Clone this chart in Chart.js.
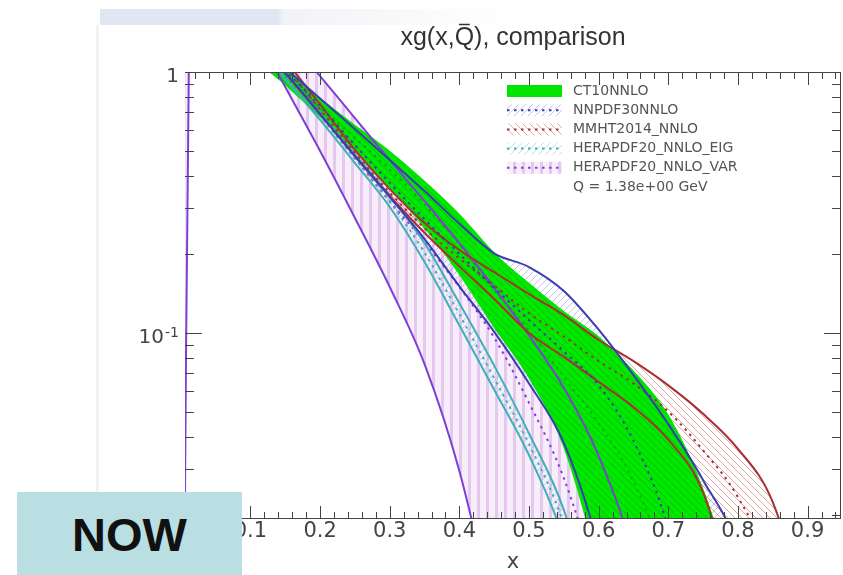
<!DOCTYPE html>
<html>
<head>
<meta charset="utf-8">
<title>xg(x,Q) comparison</title>
<script src="https://cdn.jsdelivr.net/npm/chart.js@4.4.1/dist/chart.umd.min.js"></script>
<style>
  html, body { margin: 0; padding: 0; background: #fff; }
  #wrap { position: relative; width: 843px; height: 575px; overflow: hidden; background: #fff; }
  #chart-box { position: absolute; left: 0; top: 0; width: 843px; height: 575px; z-index: 1; }
  .slide-bar { position: absolute; left: 100px; top: 9px; width: 420px; height: 16px; z-index: 0;
    background: linear-gradient(to right, #e1e7f2 0px, #e1e7f2 178px, #f1f3f7 184px, #ffffff 420px); }
  .slide-edge { position: absolute; left: 96px; top: 25px; width: 3px; height: 467px; background: #f1f2f4; z-index: 0; }
  .now { position: absolute; left: 17px; top: 492px; width: 225px; height: 83px; background: #badfe3; z-index: 2;
    font: bold 47px "Liberation Sans", Arial, sans-serif; color: #111; text-align: center; line-height: 85px; }
</style>
</head>
<body>
<div id="wrap">
  <div class="slide-bar"></div>
  <div class="slide-edge"></div>
  <div id="chart-box"><canvas id="pdf-chart"></canvas></div>
  <div class="now">NOW</div>
</div>
<script>
(function () {
    "use strict";

    // x values shared by every curve
    const xGrid = [0.0055, 0.0115, 0.05, 0.10, 0.15, 0.20, 0.25, 0.30, 0.35, 0.40, 0.45,
                   0.50, 0.55, 0.60, 0.65, 0.70, 0.75, 0.80, 0.85, 0.90, 0.95];

    // CT10NNLO
    const ct10Up  = [3.2, 3.2, 2.2, 1.29, 1.009, 0.788, 0.621, 0.494, 0.379, 0.283, 0.201, 0.154, 0.120, 0.096, 0.071, 0.048, 0.0248, 0.009, 0.002, 0.0005, 0.0001];
    const ct10Mid = [3.0, 3.0, 2.1, 1.24, 0.952, 0.731, 0.559, 0.423, 0.311, 0.219, 0.146, 0.102, 0.068, 0.045, 0.027, 0.012, 0.003, 0.0008, 0.0002, 0.00005, 0.00001];
    const ct10Lo  = [2.8, 2.8, 2.0, 1.19, 0.899, 0.678, 0.503, 0.363, 0.255, 0.169, 0.106, 0.068, 0.037, 0.0127, 0.003, 0.001, 0.0003, 0.0001, 0.00005, 0.00002, 0.00001];

    // NNPDF30NNLO
    const nnpdfUp  = [3.0, 3.0, 2.2, 1.36, 1.036, 0.791, 0.605, 0.460, 0.350, 0.262, 0.202, 0.179, 0.145, 0.103, 0.069, 0.0447, 0.0273, 0.0148, 0.004, 0.001, 0.0002];
    const nnpdfMid = [3.0, 3.0, 2.2, 1.33, 1.01, 0.741, 0.525, 0.376, 0.273, 0.201, 0.149, 0.112, 0.085, 0.063, 0.0386, 0.0177, 0.004, 0.001, 0.0003, 0.0001, 0.00003];
    const nnpdfLo  = [3.0, 3.0, 2.2, 1.30, 0.991, 0.690, 0.476, 0.332, 0.229, 0.151, 0.101, 0.064, 0.0379, 0.0152, 0.004, 0.001, 0.0003, 0.0001, 0.00003, 0.00001, 0.000005];

    // MMHT2014_NNLO
    const mmhtUp  = [3.3, 3.3, 2.4, 1.65, 1.11, 0.751, 0.503, 0.356, 0.264, 0.208, 0.171, 0.141, 0.117, 0.094, 0.078, 0.063, 0.049, 0.036, 0.0225, 0.008, 0.002];
    const mmhtMid = [3.2, 3.2, 2.3, 1.53, 1.045, 0.72, 0.49, 0.345, 0.252, 0.193, 0.152, 0.119, 0.097, 0.078, 0.064, 0.050, 0.0355, 0.0235, 0.012, 0.003, 0.0005];
    const mmhtLo  = [3.1, 3.1, 2.2, 1.44, 0.991, 0.69, 0.476, 0.335, 0.242, 0.180, 0.135, 0.100, 0.081, 0.065, 0.052, 0.039, 0.0245, 0.0083, 0.002, 0.0004, 0.0001];

    // HERAPDF20_NNLO_EIG
    const eigUp  = [3.0, 3.0, 2.1, 1.41, 0.991, 0.696, 0.485, 0.335, 0.221, 0.130, 0.075, 0.0412, 0.021, 0.007, 0.0015, 0.0003, 0.0001, 0.00003, 0.00001, 0.000005, 0.000002];
    const eigMid = [3.0, 3.0, 2.1, 1.38, 0.965, 0.675, 0.466, 0.319, 0.203, 0.118, 0.067, 0.0375, 0.0185, 0.006, 0.0012, 0.0003, 0.0001, 0.00003, 0.00001, 0.000005, 0.000002];
    const eigLo  = [3.0, 3.0, 2.1, 1.36, 0.940, 0.655, 0.448, 0.304, 0.187, 0.107, 0.0606, 0.034, 0.0162, 0.005, 0.001, 0.0002, 0.00008, 0.00003, 0.00001, 0.000005, 0.000002];

    // HERAPDF20_NNLO_VAR
    const varUp  = [3.5, 3.5, 2.8, 1.96, 1.39, 0.965, 0.666, 0.460, 0.320, 0.221, 0.149, 0.098, 0.0616, 0.0338, 0.0139, 0.003, 0.0008, 0.0002, 0.00005, 0.00001, 0.000005];
    const varMid = [3.0, 3.0, 2.5, 1.70, 1.10, 0.703, 0.468, 0.320, 0.223, 0.150, 0.096, 0.054, 0.0278, 0.0104, 0.003, 0.001, 0.0003, 0.0001, 0.00003, 0.00001, 0.000005];
    const varLo  = [0.016, 1.03, 2.6, 1.55, 0.876, 0.498, 0.276, 0.150, 0.076, 0.0296, 0.0081, 0.002, 0.0005, 0.0001, 0.00003, 0.00001, 0.000005, 0.000002, 0.000001, 0.0000005, 0.0000002];

    // axis labels / legend text
    const xTickValues = [0.1, 0.2, 0.3, 0.4, 0.5, 0.6, 0.7, 0.8, 0.9];
    const yTickValues = [1, 0.1];
    const yTickBase = ['1', '10'];
    const yTickExp = ['', '-1'];
    const legendNames = ['CT10NNLO', 'NNPDF30NNLO', 'MMHT2014_NNLO', 'HERAPDF20_NNLO_EIG', 'HERAPDF20_NNLO_VAR'];
    const legendNote = 'Q = 1.38e+00 GeV';
    const titleText = 'xg(x,Q), comparison';

    const FONT = '"DejaVu Sans", "Liberation Sans", sans-serif';
    const TITLE_FONT = '"Liberation Sans", Arial, sans-serif';

    // Colours
    const cGreen = '#00e400';
    const cBlue = '#3b3bb4';
    const cRed = '#a83030';
    const cTeal = '#3fb0b8';
    const cViolet = '#7d3fd6';


    // Hatch patterns
    function makePattern(w, h, draw) {
        const c = document.createElement('canvas');
        c.width = w;
        c.height = h;
        const g = c.getContext('2d');
        draw(g, w, h);
        return g.createPattern(c, 'repeat');
    }
    function diag(g, w, h, color, back) {
        g.strokeStyle = color;
        g.lineWidth = 1;
        g.beginPath();
        if (back) {
            g.moveTo(-1, -1); g.lineTo(w + 1, h + 1);
        } else {
            g.moveTo(-1, h + 1); g.lineTo(w + 1, -1);
        }
        g.stroke();
    }
    const greenFill = makePattern(7, 7, function (g, w, h) {
        g.fillStyle = '#00e800';
        g.fillRect(0, 0, w, h);
        diag(g, w, h, 'rgba(0,130,0,0.35)', true);
    });
    const pinkFill = makePattern(9, 4, function (g, w, h) {
        g.fillStyle = 'rgba(248,236,250,0.95)';
        g.fillRect(0, 0, w, h);
        g.fillStyle = 'rgba(230,198,239,0.95)';
        g.fillRect(0, 0, 3, h);
    });
    const redFill = makePattern(7, 7, function (g, w, h) { diag(g, w, h, 'rgba(200,80,80,0.5)', true); });
    const blueFill = makePattern(7, 7, function (g, w, h) { diag(g, w, h, 'rgba(90,90,210,0.35)', false); });
    const tealFill = makePattern(7, 7, function (g, w, h) { diag(g, w, h, 'rgba(60,170,180,0.35)', false); });


    function pts(arr) {
        return xGrid.map(function (x, i) { return { x: x, y: arr[i] }; });
    }
    function line(arr, color, dotted, order) {
        return {
            data: pts(arr),
            borderColor: color,
            borderWidth: 2,
            borderDash: dotted ? [2.5, 4.5] : [],
            pointRadius: 0,
            fill: false,
            cubicInterpolationMode: 'monotone',
            order: order
        };
    }
    function band(arr, pattern, target, order) {
        return {
            data: pts(arr),
            borderColor: 'transparent',
            borderWidth: 0,
            backgroundColor: pattern,
            pointRadius: 0,
            fill: target,
            cubicInterpolationMode: 'monotone',
            order: order
        };
    }

    const datasets = [
        line(nnpdfUp, cBlue, false, 0),      // 0
        line(nnpdfMid, cBlue, true, 0),      // 1
        line(nnpdfLo, cBlue, false, 0),      // 2
        line(mmhtUp, cRed, false, 0),        // 3
        line(mmhtMid, cRed, true, 0),        // 4
        line(mmhtLo, cRed, false, 0),        // 5
        line(eigUp, cTeal, false, 0),        // 6
        line(eigMid, cTeal, true, 0),        // 7
        line(eigLo, cTeal, false, 0),        // 8
        line(varUp, cViolet, false, 0),      // 9
        line(varMid, cViolet, true, 0),      // 10
        line(varLo, cViolet, false, 0),      // 11
        line(ct10Up, cGreen, false, 1),      // 12
        line(ct10Mid, 'rgba(0,140,0,0.55)', true, 1), // 13
        line(ct10Lo, cGreen, false, 1),      // 14
        band(ct10Up, greenFill, 14, 5),
        band(mmhtUp, redFill, 5, 6),
        band(nnpdfUp, blueFill, 2, 7),
        band(eigUp, tealFill, 8, 8),
        band(varUp, pinkFill, 11, 9)
    ];


    // ROOT style frame (under the curves) with inward ticks on all four sides (over them)
    const rootFrame = {
        id: 'rootFrame',
        beforeDatasetsDraw: function (chart) {
            const ctx = chart.ctx;
            const a = chart.chartArea;
            ctx.save();
            ctx.fillStyle = '#fff';
            ctx.fillRect(a.left, a.top, a.right - a.left, a.bottom - a.top);
            ctx.strokeStyle = '#444';
            ctx.lineWidth = 1;
            ctx.strokeRect(a.left + 0.5, a.top + 0.5, a.right - a.left - 1, a.bottom - a.top - 1);
            ctx.restore();
        },
        afterDatasetsDraw: function (chart) {
            const ctx = chart.ctx;
            const a = chart.chartArea;
            const xs = chart.scales.x;
            const ys = chart.scales.y;
            ctx.save();
            ctx.strokeStyle = '#444';
            ctx.lineWidth = 1;
            ctx.setLineDash([]);
            ctx.beginPath();
            ctx.moveTo(a.left, a.top + 0.5); ctx.lineTo(a.right, a.top + 0.5);
            ctx.moveTo(a.left, a.bottom - 0.5); ctx.lineTo(a.right, a.bottom - 0.5);
            ctx.moveTo(a.right - 0.5, a.top); ctx.lineTo(a.right - 0.5, a.bottom);
            for (let i = 1; i * 0.02 < xs.max; i++) {
                const v = i * 0.02;
                if (v < xs.min) continue;
                const len = (i % 5 === 0) ? 13 : 7;
                const px = Math.round(xs.getPixelForValue(v)) + 0.5;
                ctx.moveTo(px, a.bottom); ctx.lineTo(px, a.bottom - len);
                ctx.moveTo(px, a.top); ctx.lineTo(px, a.top + len);
            }
            [0.01, 0.1].forEach(function (dec) {
                for (let k = 1; k <= 9; k++) {
                    const v = k * dec;
                    if (v < ys.min || v > ys.max) continue;
                    const len = (k === 1) ? 17 : 9;
                    const py = Math.round(ys.getPixelForValue(v)) + 0.5;
                    ctx.moveTo(a.left, py); ctx.lineTo(a.left + len, py);
                    ctx.moveTo(a.right, py); ctx.lineTo(a.right - len, py);
                }
            });
            ctx.stroke();

            // y labels: 1 and 10^-1 with a real superscript
            ctx.fillStyle = '#444';
            ctx.textBaseline = 'middle';
            ctx.textAlign = 'right';
            yTickValues.forEach(function (v, i) {
                const py = ys.getPixelForValue(v);
                let right = a.left - 6;
                if (yTickExp[i]) {
                    ctx.font = '14px ' + FONT;
                    ctx.fillText(yTickExp[i], right, py);
                    right -= ctx.measureText(yTickExp[i]).width + 1;
                }
                ctx.font = '20px ' + FONT;
                ctx.fillText(yTickBase[i], right, py + 5);
            });
            ctx.restore();
        }
    };

    // macron over the Q of the title
    const titleBar = {
        id: 'titleBar',
        afterDraw: function (chart) {
            const ctx = chart.ctx;
            const a = chart.chartArea;
            ctx.save();
            ctx.font = '25px ' + TITLE_FONT;
            const full = ctx.measureText(titleText).width;
            const start = (a.left + a.right) / 2 - full / 2;
            const qx = start + ctx.measureText('xg(x,').width;
            const qw = ctx.measureText('Q').width;
            ctx.strokeStyle = '#333';
            ctx.lineWidth = 1.5;
            ctx.beginPath();
            ctx.moveTo(qx + qw * 0.22, 24.5);
            ctx.lineTo(qx + qw * 0.78, 24.5);
            ctx.stroke();
            ctx.restore();
        }
    };

    // ROOT style legend inside the frame
    const legendSwatches = [
        { fill: cGreen, line: null },
        { fill: blueFill, line: cBlue },
        { fill: redFill, line: cRed },
        { fill: tealFill, line: cTeal },
        { fill: pinkFill, line: cViolet }
    ];
    const rootLegend = {
        id: 'rootLegend',
        afterDraw: function (chart) {
            const ctx = chart.ctx;
            ctx.save();
            ctx.font = '14px ' + FONT;
            ctx.textBaseline = 'middle';
            legendNames.forEach(function (name, i) {
                const yc = 91 + i * 19.2;
                const sw = legendSwatches[i];
                ctx.fillStyle = sw.fill;
                ctx.fillRect(507, yc - 6, 55, 12);
                if (sw.line) {
                    ctx.strokeStyle = sw.line;
                    ctx.lineWidth = 2;
                    ctx.setLineDash([2.5, 4.5]);
                    ctx.beginPath();
                    ctx.moveTo(507, yc);
                    ctx.lineTo(562, yc);
                    ctx.stroke();
                }
                ctx.fillStyle = '#555';
                ctx.fillText(name, 573, yc);
            });
            ctx.fillStyle = '#555';
            ctx.fillText(legendNote, 573, 91 + 5 * 19.2);
            ctx.restore();
        }
    };


    const ctx = document.getElementById('pdf-chart').getContext('2d');
    const pdfChart = new Chart(ctx, {
        type: 'line',
        data: { datasets: datasets },
        options: {
            responsive: true,
            maintainAspectRatio: false,
            devicePixelRatio: 1,
            animation: false,
            events: [],
            layout: { padding: { top: 0, right: 2, bottom: 0, left: 0 } },
            plugins: {
                legend: { display: false },
                tooltip: { enabled: false },
                title: {
                    display: true,
                    fullSize: false,
                    text: titleText,
                    color: '#333',
                    font: { family: TITLE_FONT, size: 25, weight: 'normal' },
                    padding: { top: 23, bottom: 19 }
                }
            },
            scales: {
                x: {
                    type: 'linear',
                    min: 0.006,
                    max: 0.948,
                    grid: { display: false, drawTicks: false },
                    border: { display: false },
                    afterBuildTicks: function (s) {
                        s.ticks = xTickValues.map(function (v) { return { value: v }; });
                    },
                    afterFit: function (s) { s.height = 56; },
                    ticks: {
                        autoSkip: false,
                        maxRotation: 0,
                        padding: 0,
                        color: '#444',
                        font: { family: FONT, size: 21 },
                        callback: function (v) { return Number(v).toFixed(1); }
                    },
                    title: {
                        display: true,
                        text: 'x',
                        color: '#444',
                        font: { family: FONT, size: 21 },
                        padding: { top: 0, bottom: 0 }
                    }
                },
                y: {
                    type: 'logarithmic',
                    min: 0.01938,
                    max: 1,
                    grid: { display: false, drawTicks: false },
                    border: { display: false },
                    ticks: { display: false },
                    afterFit: function (s) { s.width = 185; }
                }
            }
        },
        plugins: [rootFrame, titleBar, rootLegend]
    });

})();
</script>
</body>
</html>
